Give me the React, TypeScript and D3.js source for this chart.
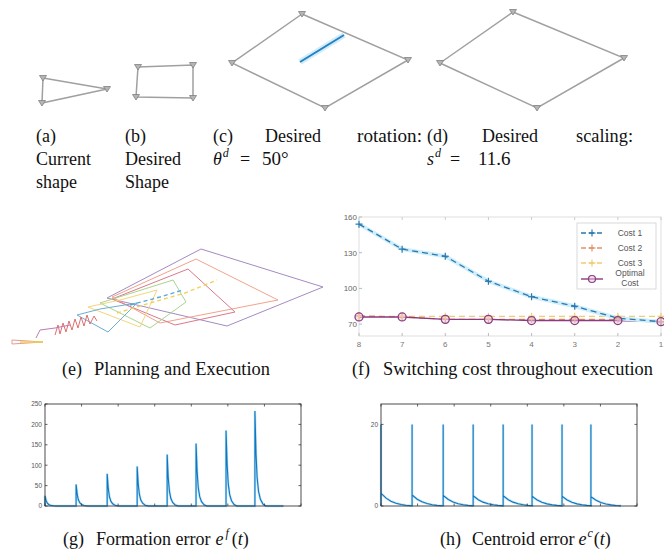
import React from 'react';
import * as d3 from 'd3';

// ---------- (a)-(d) formation shapes (world units) ----------
const currentShape: [number, number][] = [[1.3, 3.2], [7.7, 2.1], [1.2, 0.7]];
const desiredShape: [number, number][] = [[10.8, 4.3], [16.3, 4.5], [16.3, 1.2], [10.6, 1.3]];
const rotationShape: [number, number][] = [[27.2, 9.6], [37.8, 5.0], [29.5, 0.2], [20.2, 4.7]];
const rotationArrow: [number, number][] = [[27.0, 4.8], [31.4, 7.5]];
const scalingShape: [number, number][] = [[48.3, 9.8], [59.4, 5.2], [50.7, 0.2], [41.0, 4.7]];

// ---------- (e) planning and execution ----------
const planPolys: [number, number][][] = [
  [[191, 96], [313, 58], [217, 19], [97, 47]],
  [[186, 86], [268, 45], [150, 22], [102, 48]],
  [[178, 76], [225, 33], [165, 20], [102, 46]],
  [[163, 65], [176, 43], [140, 17], [90, 42]],
  [[147, 55], [130, 18], [78, 38], [110, 45]],
  [[127, 42], [98, 13], [67, 30], [90, 36]],
];
const planColors = ['#a58ac4', '#f2a28c', '#d97a8c', '#a9d48e', '#f3d67e', '#6aaed6'];
const centroidPath: [number, number][] = [[107, 32], [140, 42], [175, 52], [207, 65]];
const centroidPath2: [number, number][] = [[120, 40], [150, 48], [173, 55]];
const coilPts: [number, number][] = [[45, 10], [48, 20], [50, 11], [53, 22], [56, 13], [59, 24], [62, 15], [65, 26], [68, 17], [71, 28], [74, 19], [77, 30], [80, 21], [84, 29], [87, 24]];
const startPath: [number, number][] = [[26, 7], [30, 15], [45, 17], [60, 20]];
const startTri: [number, number][] = [[2, 5], [33, 3], [2, 1]];
const startLine: [number, number][] = [[10, 3], [33, 3]];

// ---------- (f) switching cost ----------
const steps = [8, 7, 6, 5, 4, 3, 2, 1];
const cost1 = [154, 133, 127, 106, 93, 85, 75, 72];
const cost2 = [77, 76, 74, 74, 74, 74, 74, 72];
const cost3 = [76.5, 76.5, 76.5, 76.5, 76.5, 76.5, 76.5, 76.5];
const optimal = [76, 76, 74, 74, 73, 73, 73, 72];
const fYTicks = [70, 100, 130, 160];
const legendLabels = ['Cost 1', 'Cost 2', 'Cost 3', 'Optimal Cost'];

// ---------- (g),(h) errors ----------
const segStarts = [0, 8.5, 17.0, 25.2, 33.4, 41.3, 49.5, 57.4];
const timeEnd = 65.2;
const formationPeaks = [25, 53, 79, 97, 126, 153, 185, 233];
const formDecayT = [0, 0.3, 0.6, 1.0, 1.5, 2.2, 3.0];
const formDecayF = [1, 0.55, 0.3, 0.15, 0.07, 0.02, 0];
const gYTicks = [0, 50, 100, 150, 200, 250];
const centroidPeaks = [20, 20, 20, 20, 20, 20, 20, 20];
const centroidResid = [3.1, 2.7, 2.6, 2.5, 2.5, 2.4, 2.4, 2.3];
const centDecayT = [0, 1.4, 2.7, 4.1, 5.5, 6.8, 8.2];
const centDecayF = [1, 0.62, 0.38, 0.22, 0.12, 0.06, 0.02];
const hYTicks = [0, 20];
const timeTicks = [0, 10, 20, 30, 40, 50, 60, 70];

const SERIF = '"Liberation Serif", "Times New Roman", serif';
const SANS = '"Liberation Sans", Arial, sans-serif';

function Markers({ pts, sx, sy }: any) {
  return (
    <g>
      {pts.map((p: [number, number], i: number) => {
        const x = sx(p[0]), y = sy(p[1]);
        return <path key={i} d={`M${x - 3.5},${y - 2.5}L${x + 3.5},${y - 2.5}L${x},${y + 3}Z`} fill="#b5b5b5" stroke="#808080" strokeWidth={0.8} />;
      })}
    </g>
  );
}

function Shape({ pts, sx, sy }: any) {
  const line = d3.line<[number, number]>().x(d => sx(d[0])).y(d => sy(d[1])).curve(d3.curveLinearClosed);
  return (
    <g>
      <path d={line(pts) || ''} fill="none" stroke="#a0a0a0" strokeWidth={1.5} />
      <Markers pts={pts} sx={sx} sy={sy} />
    </g>
  );
}

function buildFormation() {
  const out: [number, number][] = [];
  segStarts.forEach((s, k) => {
    out.push([s, 0]);
    formDecayT.forEach((dt, i) => out.push([s + dt, formationPeaks[k] * formDecayF[i]]));
  });
  out.push([timeEnd, 0]);
  return out;
}
function buildCentroid() {
  const out: [number, number][] = [];
  segStarts.forEach((s, k) => {
    out.push([s, k === 0 ? 0 : centroidResid[k - 1] * centDecayF[centDecayF.length - 1]]);
    out.push([s, centroidPeaks[k]]);
    centDecayT.forEach((dt, i) => out.push([s + dt, centroidResid[k] * centDecayF[i]]));
  });
  out.push([timeEnd, 0]);
  return out;
}

function ErrorPanel({ x0, x1, y0, y1, yMax, yTicks, data }: any) {
  const sx = d3.scaleLinear().domain([0, 70]).range([x0, x1]);
  const sy = d3.scaleLinear().domain([0, yMax]).range([y1, y0]);
  const line = d3.line<[number, number]>().x(d => sx(d[0])).y(d => sy(d[1]));
  return (
    <g>
      <path d={line(data) || ''} fill="none" stroke="#c4e2f4" strokeWidth={2.4} />
      <path d={line(data) || ''} fill="none" stroke="#0a78c2" strokeWidth={1.1} />
      <rect x={x0} y={y0} width={x1 - x0} height={y1 - y0} fill="none" stroke="#3a3a3a" strokeWidth={0.9} />
      {timeTicks.map(t => (
        <g key={t}>
          <line x1={sx(t)} x2={sx(t)} y1={y1} y2={y1 - 2.5} stroke="#3a3a3a" strokeWidth={0.8} />
          <line x1={sx(t)} x2={sx(t)} y1={y0} y2={y0 + 2.5} stroke="#3a3a3a" strokeWidth={0.8} />
        </g>
      ))}
      {yTicks.map((t: number) => (
        <g key={t}>
          <line x1={x0} x2={x0 + 2.5} y1={sy(t)} y2={sy(t)} stroke="#3a3a3a" strokeWidth={0.8} />
          <line x1={x1} x2={x1 - 2.5} y1={sy(t)} y2={sy(t)} stroke="#3a3a3a" strokeWidth={0.8} />
          <text x={x0 - 3} y={sy(t) + 2.3} fontSize={6.5} fontFamily={SANS} fill="#555" textAnchor="end">{t}</text>
        </g>
      ))}
    </g>
  );
}

export default function App() {
  // (a)-(d)
  const sx = d3.scaleLinear().domain([0, 60]).range([30, 630]);
  const sy = d3.scaleLinear().domain([0, 10]).range([110, 10]);
  // (e)
  const ex = d3.scaleLinear().domain([0, 320]).range([10, 330]);
  const ey = d3.scaleLinear().domain([0, 100]).range([345, 245]);
  const eLine = d3.line<[number, number]>().x(d => ex(d[0])).y(d => ey(d[1]));
  const eClosed = d3.line<[number, number]>().x(d => ex(d[0])).y(d => ey(d[1])).curve(d3.curveLinearClosed);
  // (f)
  const fx = d3.scaleLinear().domain([8, 1]).range([359, 661]);
  const fy = d3.scaleLinear().domain([60, 160]).range([336, 217]);
  const fLine = (vals: number[]) => d3.line<number>().x((_, i) => fx(steps[i])).y(v => fy(v))(vals) || '';
  const plus = (x: number, y: number, c: string, k: string) => (
    <g key={k} stroke={c} strokeWidth={1.2}>
      <line x1={x - 3.5} x2={x + 3.5} y1={y} y2={y} />
      <line x1={x} x2={x} y1={y - 3.5} y2={y + 3.5} />
    </g>
  );
  const c1 = '#2a78ad', c2 = '#e0936c', c3 = '#f1cc72', c4 = '#8c3a80';

  const formation = buildFormation();
  const centroid = buildCentroid();

  const cap = { fontFamily: SERIF, fontSize: 18, fill: '#111' } as any;

  return (
    <svg width={664} height={553} style={{ position: 'absolute', left: 0, top: 0, background: '#fff' }}>
      <rect width={664} height={553} fill="#fff" />
      {/* (a)-(d) */}
      <Shape pts={currentShape} sx={sx} sy={sy} />
      <Shape pts={desiredShape} sx={sx} sy={sy} />
      <path d={`M${sx(rotationArrow[0][0])},${sy(rotationArrow[0][1])}L${sx(rotationArrow[1][0])},${sy(rotationArrow[1][1])}`} stroke="#d3ecf8" strokeWidth={6} />
      <path d={`M${sx(rotationArrow[0][0])},${sy(rotationArrow[0][1])}L${sx(rotationArrow[1][0])},${sy(rotationArrow[1][1])}`} stroke="#1f82c4" strokeWidth={2} />
      <Shape pts={rotationShape} sx={sx} sy={sy} />
      <Shape pts={scalingShape} sx={sx} sy={sy} />

      {/* captions row 1 */}
      <g {...cap}>
        <text x={36} y={142}>(a)</text>
        <text x={36} y={165}>Current</text>
        <text x={36} y={188}>shape</text>
        <text x={125} y={142}>(b)</text>
        <text x={125} y={165}>Desired</text>
        <text x={125} y={188}>Shape</text>
        <text x={213} y={142}>(c)</text>
        <text x={265} y={142}>Desired</text>
        <text x={357} y={142} textLength={65} lengthAdjust="spacingAndGlyphs">rotation:</text>
        <text x={213} y={165}>
          <tspan fontStyle="italic">θ</tspan>
          <tspan dy={-8} dx={1} fontSize={12} fontStyle="italic">d</tspan>
          <tspan dy={8} x={240}>=</tspan>
          <tspan x={262} fontSize={19}>50°</tspan>
        </text>
        <text x={427} y={142}>(d)</text>
        <text x={482} y={142}>Desired</text>
        <text x={576} y={142} textLength={57} lengthAdjust="spacingAndGlyphs">scaling:</text>
        <text x={427} y={165}>
          <tspan fontStyle="italic">s</tspan>
          <tspan dy={-8} dx={1} fontSize={12} fontStyle="italic">d</tspan>
          <tspan dy={8} x={450}>=</tspan>
          <tspan x={478} fontSize={19}>11.6</tspan>
        </text>
      </g>

      {/* (e) */}
      <g fill="none" strokeWidth={1}>
        {planPolys.map((p, i) => <path key={i} d={eClosed(p) || ''} stroke={planColors[i]} />)}
        <path d={eLine(centroidPath) || ''} stroke="#f2d060" strokeDasharray="4,3" strokeWidth={1.4} />
        <path d={eLine(centroidPath2) || ''} stroke="#5aa8d8" strokeDasharray="4,3" strokeWidth={1.4} />
        <path d={eLine(coilPts) || ''} stroke="#e07070" />
        <path d={eLine(startPath) || ''} stroke="#c07ab0" />
        <path d={eClosed(startTri) || ''} stroke="#e79a90" />
        <path d={eLine(startLine) || ''} stroke="#f0d050" strokeWidth={1.5} />
      </g>

      {/* (f) */}
      <g>
        <rect x={359} y={217} width={302} height={119} fill="none" stroke="#d6d6d6" strokeWidth={0.8} />
        {steps.map(s => (
          <g key={s}>
            <line x1={fx(s)} x2={fx(s)} y1={336} y2={333} stroke="#bbb" />
            <line x1={fx(s)} x2={fx(s)} y1={217} y2={220} stroke="#ccc" />
            <text x={fx(s)} y={347} fontSize={8} fontFamily={SANS} fill="#777" textAnchor="middle">{s}</text>
          </g>
        ))}
        {fYTicks.map(t => (
          <g key={t}>
            <line x1={359} x2={362} y1={fy(t)} y2={fy(t)} stroke="#bbb" />
            <text x={357} y={fy(t) + 3} fontSize={8} fontFamily={SANS} fill="#666" textAnchor="end">{t}</text>
          </g>
        ))}
        <path d={fLine(cost3)} fill="none" stroke={c3} strokeWidth={1.4} strokeDasharray="6,4" />
        <path d={fLine(cost2)} fill="none" stroke={c2} strokeWidth={1.2} strokeDasharray="6,4" />
        <path d={fLine(optimal)} fill="none" stroke={c4} strokeWidth={1.4} />
        <path d={fLine(cost1)} fill="none" stroke="#cdeefa" strokeWidth={4} />
        <path d={fLine(cost1)} fill="none" stroke={c1} strokeWidth={1.3} strokeDasharray="6,4" />
        {cost1.map((v, i) => plus(fx(steps[i]), fy(v), c1, 'a' + i))}
        {cost2.map((v, i) => plus(fx(steps[i]), fy(v), c2, 'b' + i))}
        {cost3.map((v, i) => plus(fx(steps[i]), fy(v), c3, 'c' + i))}
        {optimal.map((v, i) => <circle key={'o' + i} cx={fx(steps[i])} cy={fy(v)} r={4} fill="#e9c7dc" fillOpacity={0.5} stroke={c4} strokeWidth={1.3} />)}
        {/* legend */}
        <rect x={577} y={223} width={79} height={66} fill="#fff" stroke="#d0d0d0" strokeWidth={0.8} />
        {[c1, c2, c3].map((c, i) => (
          <g key={i}>
            <line x1={581} x2={603} y1={233 + i * 15} y2={233 + i * 15} stroke={c} strokeWidth={1.3} strokeDasharray="5,3" />
            {plus(592, 233 + i * 15, c, 'l' + i)}
            <text x={630} y={236 + i * 15} fontSize={8.5} fontFamily={SANS} fill="#555" textAnchor="middle">{legendLabels[i]}</text>
          </g>
        ))}
        <line x1={581} x2={603} y1={279} y2={279} stroke={c4} strokeWidth={1.4} />
        <circle cx={592} cy={279} r={3.5} fill="#e9c7dc" fillOpacity={0.5} stroke={c4} strokeWidth={1.2} />
        <text x={630} y={276} fontSize={8.5} fontFamily={SANS} fill="#555" textAnchor="middle">{legendLabels[3].split(' ')[0]}</text>
        <text x={630} y={286} fontSize={8.5} fontFamily={SANS} fill="#555" textAnchor="middle">{legendLabels[3].split(' ')[1]}</text>
      </g>

      {/* (g), (h) */}
      <ErrorPanel x0={45} x1={301} y0={404} y1={506} yMax={250} yTicks={gYTicks} data={formation} />
      <ErrorPanel x0={381} x1={637} y0={404} y1={506} yMax={25} yTicks={hYTicks} data={centroid} />

      {/* captions rows 2-3 */}
      <g {...cap}>
        <text x={62} y={375}>(e)</text>
        <text x={94} y={375} textLength={176} lengthAdjust="spacingAndGlyphs">Planning and Execution</text>
        <text x={352} y={375}>(f)</text>
        <text x={383} y={375} textLength={270} lengthAdjust="spacingAndGlyphs">Switching cost throughout execution</text>
        <text x={63} y={545}>(g)</text>
        <text x={96} y={545}>
          <tspan>Formation error</tspan>
          <tspan dx={5} fontStyle="italic">e</tspan>
          <tspan dy={-8} dx={2} fontSize={12} fontStyle="italic">f</tspan>
          <tspan dy={8} dx={3}>(</tspan>
          <tspan fontStyle="italic">t</tspan>
          <tspan>)</tspan>
        </text>
        <text x={440} y={545}>(h)</text>
        <text x={472} y={545}>
          <tspan>Centroid error</tspan>
          <tspan dx={4} fontStyle="italic">e</tspan>
          <tspan dy={-8} dx={1} fontSize={12} fontStyle="italic">c</tspan>
          <tspan dy={8} dx={1}>(</tspan>
          <tspan fontStyle="italic">t</tspan>
          <tspan>)</tspan>
        </text>
      </g>
    </svg>
  );
}
